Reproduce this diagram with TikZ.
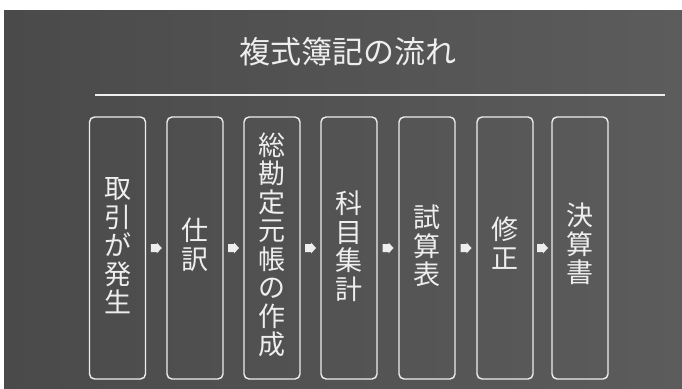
\documentclass[tikz,border=0pt]{standalone}
\usepackage{fontspec}
\newfontfamily\jpfont{Noto Sans CJK JP}
\usetikzlibrary{calc}
\definecolor{board}{RGB}{74,74,74}
\definecolor{boardlight}{RGB}{92,92,92}
\definecolor{chalk}{RGB}{238,238,238}
\tikzset{
  stepbox/.style={draw=chalk, line width=1.4pt, rounded corners=5pt,
    minimum width=56pt, minimum height=262pt, inner sep=0pt},
  vtext/.style={text=chalk, font=\jpfont\fontsize{27}{28.5}\selectfont, align=center, inner sep=0pt},
  flowarrow/.style={fill=chalk}
}
\newcommand{\flowarr}[2]{%
  \fill[flowarrow] ($(#1.east)!0.5!(#2.west)$) ++(-5.5,-4) -- ++(6,0) -- ++(0,-1.5) -- ++(5,5.5) -- ++(-5,5.5) -- ++(0,-1.5) -- ++(-6,0) -- cycle;}
\begin{document}
\begin{tikzpicture}[x=1pt,y=-1pt]
\useasboundingbox (0,0) rectangle (682,388);
\fill[white] (0,0) rectangle (682,388);
\shade[left color=board, right color=boardlight] (4,10) rectangle (682,388);
\node[text=chalk, font=\jpfont\fontsize{31}{33}\selectfont] (title) at (348,52) {複式簿記の流れ};
\coordinate (l1) at (95,95);
\coordinate (l2) at (665,95);
\draw[chalk, line width=1.4pt] (l1) -- (l2);
\node[stepbox] (b1) at (117.5,248) {};
\node[stepbox] (b2) at (195,248) {};
\node[stepbox] (b3) at (272,248) {};
\node[stepbox] (b4) at (349,248) {};
\node[stepbox] (b5) at (427,248) {};
\node[stepbox] (b6) at (505,248) {};
\node[stepbox] (b7) at (580,248) {};
\node[vtext] (t1) at (117.5,246) {取\\引\\が\\発\\生};
\node[vtext] (t2) at (195,245) {仕\\訳};
\node[vtext] (t3) at (272,245) {総\\勘\\定\\元\\帳\\の\\作\\成};
\node[vtext] (t4) at (349,246) {科\\目\\集\\計};
\node[vtext] (t5) at (427,246) {試\\算\\表};
\node[vtext] (t6) at (505,243) {修\\正};
\node[vtext] (t7) at (580,244) {決\\算\\書};
\flowarr{b1}{b2}
\flowarr{b2}{b3}
\flowarr{b3}{b4}
\flowarr{b4}{b5}
\flowarr{b5}{b6}
\flowarr{b6}{b7}
\end{tikzpicture}
\end{document}
